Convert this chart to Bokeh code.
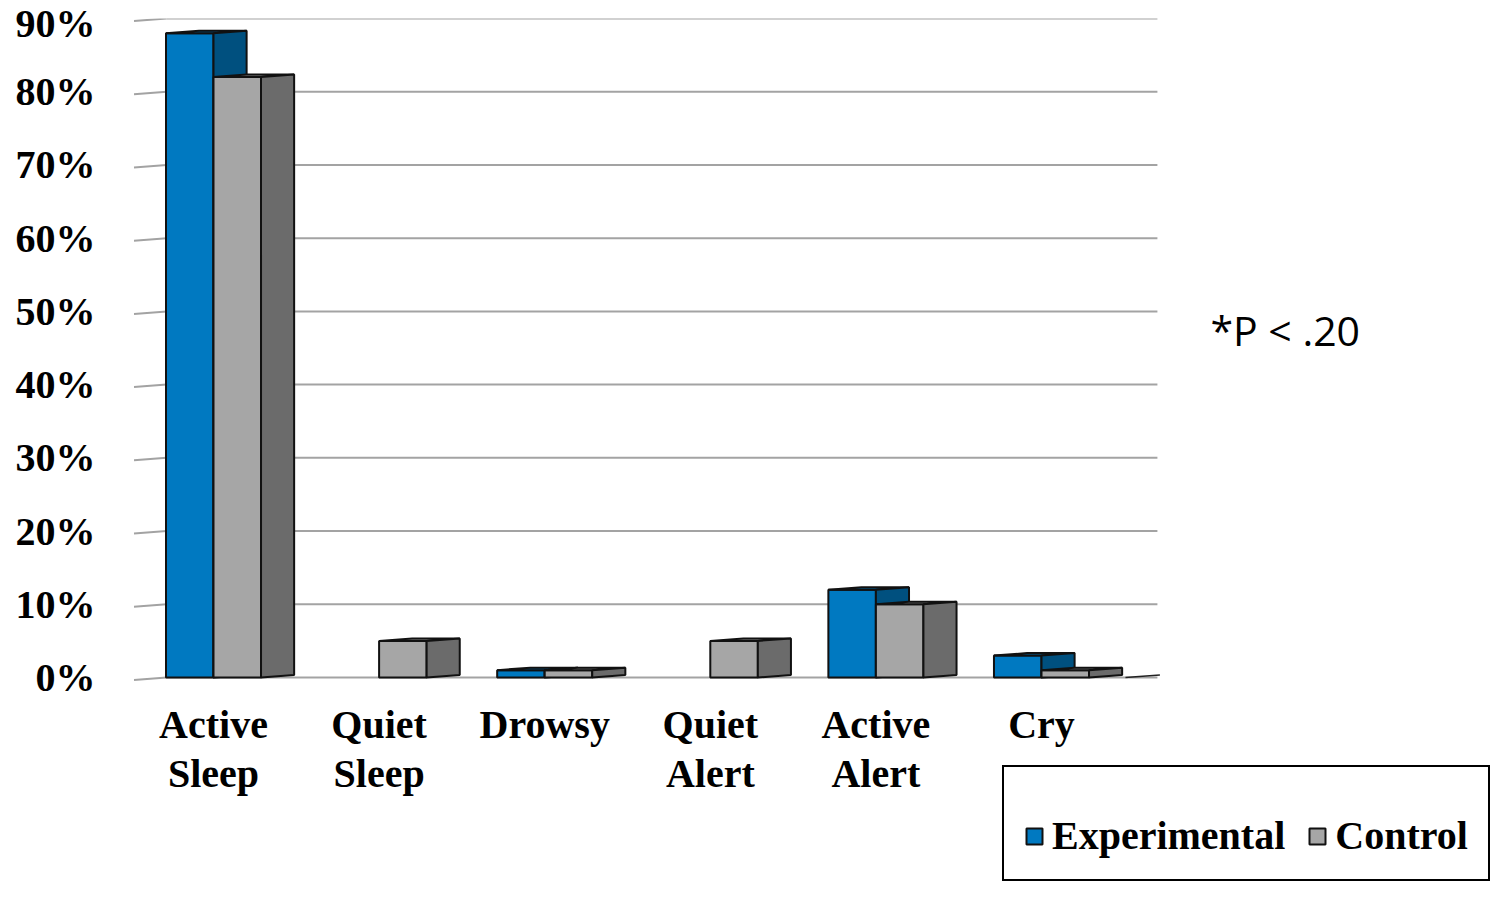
from bokeh.plotting import figure
from bokeh.models import Range1d, FixedTicker, Legend, LegendItem, Label, ColumnDataSource
from bokeh.core.properties import value
from bokeh.embed import file_html
from bokeh.resources import INLINE

# ---- data ----
categories = ["Active\nSleep", "Quiet\nSleep", "Drowsy", "Quiet\nAlert", "Active\nAlert", "Cry"]
experimental = [88, 0, 1, 0, 12, 3]
control = [82, 5, 1, 5, 10, 1]
y_ticks = [0, 10, 20, 30, 40, 50, 60, 70, 80, 90]
y_tick_labels = ["0%", "10%", "20%", "30%", "40%", "50%", "60%", "70%", "80%", "90%"]
series_names = ["Experimental", "Control"]
note_text = "*P < .20"

# ---- style / geometry ----
FRONT = {"Experimental": "#0079C1", "Control": "#A6A6A6"}
SIDE = {"Experimental": "#00507F", "Control": "#6B6B6B"}
TOP = {"Experimental": "#005E95", "Control": "#808080"}
W = 0.287    # front face width (x units)
D = 0.2      # depth (x units)
DV = 0.34    # depth rise (y units)
GRID = "#A3A3A3"
X0, X1 = -0.4831, 7.7295
Y0, Y1 = -30.455, 90
GRID_END = 5.70
CAT_LABEL_Y = -3.3
NOTE_X, NOTE_Y = 6.02, 47.5

p = figure(width=1493, height=900, output_backend="svg", toolbar_location=None,
           x_range=Range1d(X0, X1), y_range=Range1d(Y0, Y1),
           min_border_left=133, min_border_right=0, min_border_top=18, min_border_bottom=0)
p.outline_line_color = None
p.xgrid.visible = False
p.ygrid.visible = False
p.xaxis.visible = False

# gridlines on back wall + slanted left wall segments
n = len(y_ticks)
p.segment(x0=[X0 + D] * n, y0=y_ticks, x1=[GRID_END] * n, y1=y_ticks,
          line_color=GRID, line_width=2)
p.segment(x0=[X0 + 0.003] * n, y0=[t - DV for t in y_ticks], x1=[X0 + D] * n,
          y1=y_ticks, line_color=GRID, line_width=2)
# floor right edge
p.segment(x0=[5.507], y0=[0.0], x1=[GRID_END + 0.015], y1=[DV], line_color="#222222", line_width=1.5)

front_renderers = {}
for name, vals, offs in (("Experimental", experimental, -W), ("Control", control, 0.0)):
    idx = [i for i, v in enumerate(vals) if v > 0]
    src = ColumnDataSource(dict(
        left=[i + offs for i in idx],
        right=[i + offs + W for i in idx],
        top=[vals[i] for i in idx],
    ))
    r = p.quad(left="left", right="right", bottom=0, top="top", source=src,
               fill_color=FRONT[name], line_color="#111111", line_width=2)
    front_renderers[name] = r
    txs, tys, sxs, sys_ = [], [], [], []
    for i in idx:
        v = vals[i]
        xl, xr = i + offs, i + offs + W
        txs.append([xl, xr, xr + D, xl + D])
        tys.append([v, v, v + DV, v + DV])
        sxs.append([xr, xr, xr + D, xr + D])
        sys_.append([0, v, v + DV, DV])
    p.patches(xs=txs, ys=tys, fill_color=TOP[name], line_color="#111111", line_width=2)
    p.patches(xs=sxs, ys=sys_, fill_color=SIDE[name], line_color="#111111", line_width=2)

# category labels under the floor
p.text(x=list(range(len(categories))), y=[CAT_LABEL_Y] * len(categories), text=categories,
       text_align="center", text_baseline="top", text_font=value("Liberation Serif"),
       text_font_style="bold", text_font_size="40px", text_line_height=1.1, text_color="black")

# y axis
p.yaxis.ticker = FixedTicker(ticks=y_ticks)
p.yaxis.major_label_overrides = {t: l for t, l in zip(y_ticks, y_tick_labels)}
ax = p.yaxis[0]
ax.axis_line_color = None
ax.major_tick_line_color = None
ax.minor_tick_line_color = None
ax.major_tick_out = 0
ax.major_tick_in = 0
ax.major_label_text_font = "Liberation Serif"
ax.major_label_text_font_style = "bold"
ax.major_label_text_font_size = "40px"
ax.major_label_text_color = "black"
ax.major_label_standoff = 38

# legend
legend = Legend(items=[LegendItem(label=nm, renderers=[front_renderers[nm]]) for nm in series_names],
                orientation="horizontal", location=(869, 19),
                label_text_font="Liberation Serif", label_text_font_style="bold",
                label_text_font_size="40px", label_text_color="black",
                label_standoff=8, spacing=22,
                glyph_width=20, glyph_height=20, padding=20,
                border_line_color="black", border_line_width=2, border_line_alpha=1.0,
                background_fill_color="white", background_fill_alpha=1.0,
                title=" ", title_text_font_size="12px", title_standoff=11)
p.add_layout(legend)

# note
p.add_layout(Label(x=NOTE_X, y=NOTE_Y, text=note_text, text_font="Open Sans",
                   text_font_size="41px", text_baseline="middle", text_color="black"))

open("out.html", "w").write(file_html(p, INLINE))
